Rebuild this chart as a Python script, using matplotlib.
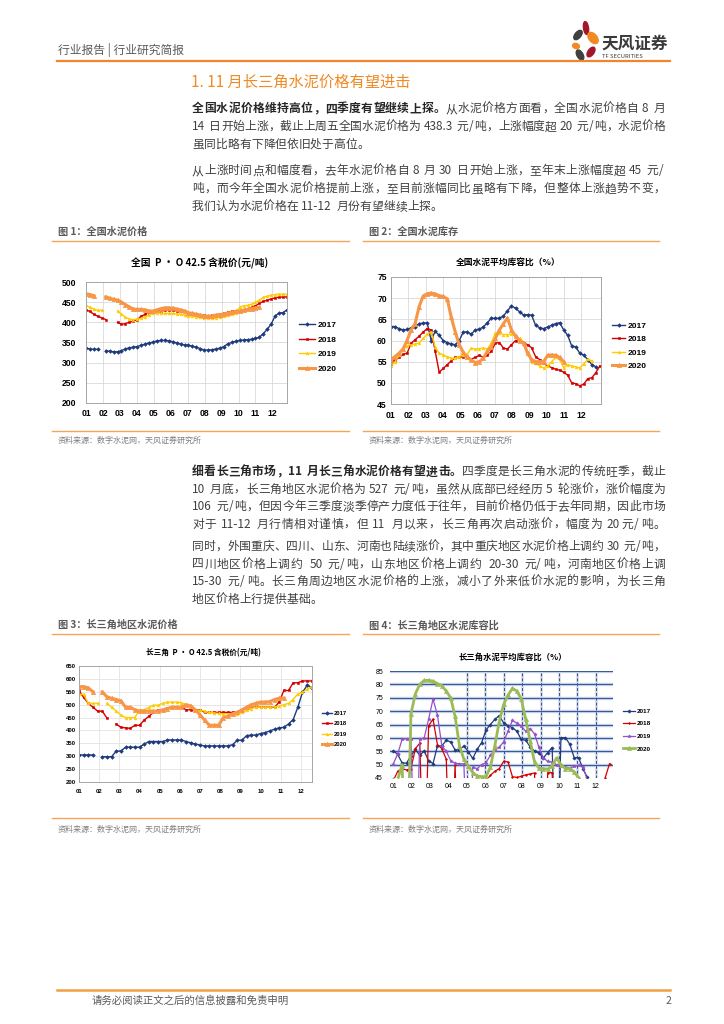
import numpy as np
import matplotlib
matplotlib.use('Agg')
import matplotlib.pyplot as plt
from matplotlib.lines import Line2D
from matplotlib.patches import Ellipse

plt.rcParams['font.family'] = ['Noto Sans CJK SC', 'DejaVu Sans']
plt.rcParams['axes.unicode_minus'] = False

nan = np.nan
MONTHS = ['01', '02', '03', '04', '05', '06', '07', '08', '09', '10', '11', '12']
YEARS = ['2017', '2018', '2019', '2020']

# 图1 全国 P.O42.5 含税价（周度，元/吨）
nat_price_2017 = [336, 334, 333, 333, nan, 330, 328, 327, 327, 330, 334, 337, 338, 340, 343, 346, 349, 351,
                  354, 355, 355, 354, 352, 349, 346, 344, 343, 341, 338, 335, 331, 331, 332, 334, 336, 340,
                  347, 350, 353, 355, 356, 357, 358, 360, 363, 372, 383, 396, 416, 423, 424, 431]
nat_price_2018 = [431, 427, 420, 415, 411, 407, nan, nan, 400, 395, 397, 400, 403, 407, 415, 420, 424, 427,
                  428, 429, 430, 430, 430, 429, 429, 428, 424, 421, 420, 418, 417, 416, 417, 418, 420, 422,
                  425, 427, 428, 429, 431, 433, 437, 441, 447, 452, 455, 458, 461, 462, 463, 463]
nat_price_2019 = [442, 437, 433, 430, 430, nan, nan, nan, 428, 420, 413, 408, 407, 408, 410, 414, 418, 422,
                  424, 422, 422, 422, 422, 421, 420, 418, 416, 415, 414, 413, 411, 410, 410, 411, 413, 416,
                  419, 421, 423, 438, 441, 442, 445, 450, 455, 462, 465, 467, 469, 470, 470, 470]
nat_price_2020 = [471, 469, 466, nan, nan, 463, 460, 457, 455, 450, 444, 438, 433, 432, 432, 431, 428, 428,
                  431, 434, 436, 436, 435, 433, 431, 428, 424, 422, 420, 418, 416, 415, 416, 418, 419, 421,
                  423, 425, 427, 428, 430, 432, 434, 436, 437]

# 图2 全国水泥平均库容比（%）
nat_stock_2017 = [63.3, 63.3, 62.8, 62.5, 62.6, 63.0, 63.2, 64.0, 64.1, 64.2, 60.0, 62.2, 61.2, 60.0, 59.5,
                  59.2, 59.0, 60.0, 62.0, 62.0, 61.5, 62.5, 62.7, 63.2, 64.2, 65.3, 65.2, 65.3, 65.8, 67.0,
                  68.2, 67.6, 66.8, 66.0, 66.1, 66.0, 63.6, 63.0, 62.8, 63.2, 63.6, 64.0, 64.2, 62.5, 61.2,
                  58.7, 58.5, 57.0, 56.5, 55.5, 54.3, 53.8]
nat_stock_2018 = [54.5, 55.5, 56.0, 56.7, 57.0, 59.3, 60.2, 61.0, 62.0, 62.8, 62.5, 57.5, 52.5, 53.4, 54.3,
                  55.2, 56.0, 56.0, 56.2, 56.2, 55.6, 56.0, 56.5, 56.0, 56.5, 57.5, 59.4, 59.5, 58.2, 58.0,
                  59.0, 60.0, 60.0, 59.5, 59.0, 58.3, 56.2, 55.5, 54.6, 54.0, 53.6, 53.2, 53.0, 52.5, 51.8,
                  50.0, 49.8, 49.3, 49.7, 51.0, 51.2, 52.4, 54.0]
nat_stock_2019 = [54.0, 55.0, 56.5, 57.8, 58.8, 59.0, 59.2, 59.4, 60.5, 61.5, 62.0, 58.5, 57.0, 56.6, 56.2,
                  55.8, 55.8, 56.2, 56.6, 56.8, 58.2, 58.0, 58.1, 58.2, 58.0, 59.5, 61.8, 61.8, 61.4, 61.4,
                  61.5, 61.2, 60.5, 59.5, 57.2, 55.0, 54.6, 54.0, 53.5, 54.0, 55.0, 56.0, 55.6, 53.5, 54.3,
                  54.0, 53.8, 53.5, 54.5, 55.6, 55.2]
nat_stock_2020 = [55.5, 56.2, 57.0, 58.0, 60.0, 62.5, 64.0, 68.0, 70.5, 71.0, 71.2, 71.0, 70.6, 70.4, 69.8,
                  65.5, 62.0, 59.0, 57.2, 56.0, 55.3, 54.8, 55.0, 55.8, 57.5, 58.5, 60.5, 62.5, 64.0, 65.3,
                  62.5, 61.0, 60.0, 59.5, 57.0, 55.5, 55.0, 55.0, 55.0, 56.5, 56.6, 56.5, 56.0, 55.0]

# 图3 长三角 P.O42.5 含税价（元/吨）
yrd_price_2017 = [305, 305, 305, 305, nan, 298, 298, 298, 320, 320, 335, 335, 335, 335, 347, 357, 357, 357,
                  357, 363, 363, 363, 363, 357, 352, 347, 343, 340, 340, 340, 340, 340, 340, 345, 362, 362,
                  380, 382, 382, 388, 392, 398, 405, 410, 412, 425, 442, 490, 548, 575, 566]
yrd_price_2018 = [555, 528, 505, 490, 475, 475, 448, nan, 425, 412, 410, 408, 420, 420, 440, 455, 470, 480,
                  480, 488, 490, 490, 490, 480, 480, 480, 480, 470, 470, 470, 470, 470, 470, 470, 470, 480,
                  490, 490, 490, 490, 490, 490, 490, 510, 555, 555, 585, 585, 592, 592, 592]
yrd_price_2019 = [540, 540, 505, 505, 505, nan, 505, 490, 475, 460, 450, 450, 450, 480, 480, 490, 498, 498,
                  505, 510, 510, 510, 508, 500, 490, 480, 478, 475, 470, 468, 466, 465, 465, 465, 465, 470,
                  478, 485, 490, 490, 490, 490, 492, 495, 500, 505, 520, 542, 548, 560, 570]
yrd_price_2020 = [570, 570, 565, 550, nan, 550, 530, 525, 520, 515, 490, 490, 480, 475, 475, 475, 475, 475,
                  480, 485, 490, 490, 490, 500, 495, 480, 460, 440, 420, 420, 420, 450, 455, 465, 470, 480,
                  490, 500, 505, 510, 510, 512, 520, 525, 525]

# 图4 长三角水泥平均库容比（%），0 为缺失/低于坐标下限
yrd_stock_2017 = [55.2, 53.8, 50.6, 50.6, 53.3, 55.7, 53.5, 55.1, 51.4, 50.4, 57.0, 57.0, 59.1, 58.5, 55.5,
                  55.5, 57.0, 54.8, 52.3, 55.7, 58.2, 62.9, 65.0, 66.9, 68.3, 65.6, 64.6, 63.8, 62.5, 59.4,
                  59.1, 56.7, 55.1, 54.3, 52.5, 54.5, 56.4, 0, 60.1, 60.1, 57.6, 52.6, 52.6, 48.3, 45.2, 40]
yrd_stock_2018 = [44, 47.5, 48.5, 48, 48.5, 56, 58, 0, 64.5, 67, 57.5, 56, 52, 0, 50, 0, 0, 0, 0, 0, 0,
                  44, 46, 47.5, 48.5, 51.2, 51, 45.5, 45.2, 45.6, 46.2, 46.5, 46.9, 0, 0, 47, 47,
                  0, 0, 0, 0, 0, 0, 0, 0, 0, 0, 0, 45, 50.3]
yrd_stock_2019 = [50.3, 54, 59.5, 59.7, 59.7, 0, 59.5, 60, 67, 74.5, 68.5, 57, 55, 51.5, 50.5, 50.3, 50.3,
                  0, 49, 48.5, 50, 50.7, 53.5, 55.5, 56.5, 58.5, 62.5, 66.5, 65.5, 64.5, 62.5, 63.5, 61.5,
                  56.5, 52.5, 51.2, 51, 50, 49.6, 49, 48.7, 49.3, 49.8, 49.2, 44]
yrd_stock_2020 = [44.5, 44.5, 50, 0, 69, 76.5, 80, 81.5, 81.5, 81.2, 80.3, 79.5, 77.5, 75, 68, 57, 52, 49.5,
                  47, 45.8, 45.5, 45.5, 49, 57, 66, 72.5, 76, 78.5, 77.5, 74.5, 67, 59, 51, 48.7, 48.5,
                  48.3, 49.5, 52.5, 50, 48.5, 48.5, 47.3, 45]

W, H = 724, 1024
fig = plt.figure(figsize=(W / 100, H / 100), dpi=100)
fig.patch.set_facecolor('white')
renderer = fig.canvas.get_renderer()


def fx(x):
    return x / W


def fy(y):
    return 1 - y / H


def box(l, t, r, b):
    return [l / W, 1 - b / H, (r - l) / W, (b - t) / H]


def hline(x0, x1, y, color, lw):
    fig.add_artist(Line2D([fx(x0), fx(x1)], [fy(y), fy(y)], color=color, lw=lw,
                          transform=fig.transFigure))


def ink_width(s, size, weight):
    t = fig.text(0, 0, s, fontsize=size, fontweight=weight)
    w = t.get_window_extent(renderer).width
    t.remove()
    return w


def split_tokens(s):
    toks, buf = [], ''
    for ch in s:
        if ord(ch) < 128 and ch != ' ':
            buf += ch
        else:
            if buf:
                toks.append(buf)
                buf = ''
            toks.append(ch)
    if buf:
        toks.append(buf)
    return toks


# 正文按字排版，两端对齐
def text_line(y, parts, justify=True, x0=192, x1=665, size=8.5):
    em = size * 100 / 72
    items = []
    for txt, bold in parts:
        wt = 'bold' if bold else 'normal'
        col = '#262626' if bold else '#404040'
        for tok in split_tokens(txt):
            if tok == ' ':
                items.append(('', 0.25 * em, wt, col))
            elif ord(tok[0]) < 128:
                items.append((tok, ink_width(tok, size, wt) + 0.12 * em, wt, col))
            else:
                items.append((tok, em, wt, col))
    natural = sum(it[1] for it in items)
    gap = (x1 - x0 - natural) / (len(items) - 1) if justify else 0.0
    x = x0
    base = y + 0.36 * em
    for tok, w, wt, col in items:
        if tok:
            fig.text(fx(x), fy(base), tok, fontsize=size, fontweight=wt, color=col,
                     ha='left', va='baseline')
        x += w + gap


# ---------- 页眉 ----------
fig.text(fx(58), fy(50), '行业报告 | 行业研究简报', fontsize=8.5, color='#595959', va='center')
hline(57, 670, 61, '#f0862c', 1.6)
ax_logo = fig.add_axes(box(570, 20, 600, 62))
ax_logo.set_xlim(570, 600)
ax_logo.set_ylim(62, 20)
ax_logo.axis('off')
petals = [(586, 28, 5, 13, -8, '#a3152a'), (578, 35, 6, 11, 40, '#404040'),
          (593, 38, 8, 13, -40, '#f08a24'), (576, 46, 7, 5, 15, '#f08a24'),
          (580, 55, 6, 11, -30, '#404040'), (591, 52, 6, 11, 35, '#a3152a')]
for cx, cy, w, h, ang, col in petals:
    ax_logo.add_patch(Ellipse((cx, cy), w, h, angle=ang, color=col))
fig.text(fx(601), fy(44), '天风证券', fontsize=12, fontweight='bold', color='#3a3a3a', va='center')
fig.text(fx(602), fy(56), 'TF SECURITIES', fontsize=4.2, color='#3a3a3a', va='center')

fig.text(fx(191), fy(82), '1. 11 月长三角水泥价格有望进击', fontsize=11, color='#f08a24', va='center')

# ---------- 正文 ----------
text_line(108, [('全国水泥价格维持高位，四季度有望继续上探。', True), ('从水泥价格方面看，全国水泥价格自 8 月', False)])
text_line(126, [('14 日开始上涨，截止上周五全国水泥价格为 438.3 元/吨，上涨幅度超 20 元/吨，水泥价格', False)])
text_line(143.5, [('虽同比略有下降但依旧处于高位。', False)], justify=False)
text_line(170, [('从上涨时间点和幅度看，去年水泥价格自 8 月 30 日开始上涨，至年末上涨幅度超 45 元/', False)])
text_line(188, [('吨，而今年全国水泥价格提前上涨，至目前涨幅同比虽略有下降，但整体上涨趋势不变，', False)])
text_line(205.5, [('我们认为水泥价格在 11-12 月份有望继续上探。', False)], justify=False)

text_line(471, [('细看长三角市场，11 月长三角水泥价格有望进击。', True), ('四季度是长三角水泥的传统旺季，截止', False)])
text_line(488.5, [('10 月底，长三角地区水泥价格为 527 元/吨，虽然从底部已经经历 5 轮涨价，涨价幅度为', False)])
text_line(506, [('106 元/吨，但因今年三季度淡季停产力度低于往年，目前价格仍低于去年同期，因此市场', False)])
text_line(523.5, [('对于 11-12 月行情相对谨慎，但 11 月以来，长三角再次启动涨价，幅度为 20元/吨。', False)])
text_line(546, [('同时，外围重庆、四川、山东、河南也陆续涨价，其中重庆地区水泥价格上调约 30 元/吨，', False)])
text_line(563.5, [('四川地区价格上调约  50 元/吨，山东地区价格上调约  20-30 元/吨，河南地区价格上调', False)])
text_line(581, [('15-30 元/吨。长三角周边地区水泥价格的上涨，减小了外来低价水泥的影响，为长三角', False)])
text_line(598.5, [('地区价格上行提供基础。', False)], justify=False)


# ---------- 图表标题与来源 ----------
def caption(x, x_end, y_text, y_top, y_bottom, y_src, text):
    fig.text(fx(x), fy(y_text), text, fontsize=7.3, fontweight='bold', color='#595959', va='center')
    hline(x - 6, x_end, y_top, '#f5a55a', 1.0)
    hline(x - 6, x_end, y_bottom, '#f5a55a', 1.0)
    fig.text(fx(x), fy(y_src), '资料来源：数字水泥网，天风证券研究所', fontsize=5.8, color='#7f7f7f', va='center')


caption(58, 349, 232, 241, 431, 440, '图 1：全国水泥价格')
caption(369, 659, 232, 241, 431, 440, '图 2：全国水泥库存')
caption(58, 349, 625, 634, 818, 829, '图 3：长三角地区水泥价格')
caption(369, 659, 625, 634, 818, 829, '图 4：长三角地区水泥库容比')

STYLE = {'2017': dict(color='#1f3a7d', marker='D', ms=1.9, lw=1.0),
         '2018': dict(color='#d40000', marker='s', ms=1.7, lw=1.0),
         '2019': dict(color='#ffcc00', marker='^', ms=2.0, lw=1.0),
         '2020': dict(color='#f79646', marker='^', ms=3.2, lw=2.2)}
STYLE4 = {'2017': dict(color='#1f3a7d', marker='D', ms=1.7, lw=0.9),
          '2018': dict(color='#d40000', marker='.', ms=2.5, lw=0.9),
          '2019': dict(color='#9650c8', marker='*', ms=2.6, lw=0.9),
          '2020': dict(color='#9bbb59', marker='^', ms=3.0, lw=2.0)}


def draw_series(ax, series, style, per_month):
    for yr, vals in zip(YEARS, series):
        v = np.array(vals, dtype=float)
        x = np.arange(len(v)) / per_month
        ax.plot(x, v, label=yr, mew=0.4, mec=style[yr]['color'], **style[yr])


def setup_axes(rect, ylim, ystep, xlim, tsize, ypad, xpad, grid_color):
    ax = fig.add_axes(box(*rect))
    ax.set_xlim(*xlim)
    ax.set_ylim(*ylim)
    ax.set_xticks(range(12))
    ax.set_xticklabels(MONTHS)
    ax.set_yticks(np.arange(ylim[0], ylim[1] + ystep / 2, ystep))
    ax.grid(True, color=grid_color, lw=0.6)
    ax.set_axisbelow(True)
    for s in ax.spines.values():
        s.set_color('#a6a6a6')
        s.set_linewidth(0.7)
    ax.tick_params(axis='y', length=0, pad=ypad)
    ax.tick_params(axis='x', length=0, pad=xpad)
    for lab in ax.get_xticklabels() + ax.get_yticklabels():
        lab.set_family('Liberation Sans')
        lab.set_weight('bold')
        lab.set_size(tsize)
    return ax


def add_legend(ax, x, yc, size, pitch, hl_px):
    f_px = size * 100 / 72
    ax.legend(loc='center left', bbox_to_anchor=(fx(x), fy(yc)), bbox_transform=fig.transFigure,
              frameon=False, prop={'family': 'Liberation Sans', 'weight': 'bold', 'size': size},
              handlelength=hl_px / f_px, handletextpad=0.3, labelspacing=pitch / f_px - 0.93,
              borderpad=0, borderaxespad=0, numpoints=1)


# 图1
ax1 = setup_axes((86, 282, 287, 403), (200, 500), 50, (0, 11.86), 6.2, 7, 4.5, '#d9d9d9')
draw_series(ax1, [nat_price_2017, nat_price_2018, nat_price_2019, nat_price_2020], STYLE, 4.3)
add_legend(ax1, 299, 347, 6, 14.5, 16)
fig.text(fx(200), fy(263), '全国  P • O 42.5 含税价(元/吨)', fontsize=7, fontweight='bold',
         ha='center', va='center', color='#000000')

# 图2
ax2 = setup_axes((391, 277, 601, 404), (45, 75), 5, (0, 12.16), 6.2, 3, 5, '#d9d9d9')
draw_series(ax2, [nat_stock_2017, nat_stock_2018, nat_stock_2019, nat_stock_2020], STYLE, 4.3)
add_legend(ax2, 612, 346, 6, 13.3, 13)
fig.text(fx(508), fy(262), '全国水泥平均库容比（%）', fontsize=6.3, fontweight='bold',
         ha='center', va='center', color='#000000')

# 图3
ax3 = setup_axes((79, 666, 312, 782), (200, 650), 50, (0, 11.55), 4.3, 2.5, 5, '#e3e3e3')
draw_series(ax3, [yrd_price_2017, yrd_price_2018, yrd_price_2019, yrd_price_2020], STYLE, 4.333)
add_legend(ax3, 322, 729, 4.2, 10.7, 10)
fig.text(fx(203), fy(653), '长三角  P • O 42.5 含税价(元/吨)', fontsize=5.5, fontweight='bold',
         ha='center', va='center', color='#000000')

# 图4
ax4 = fig.add_axes(box(390, 671, 613, 778))
ax4.set_xlim(-0.18, 11.94)
ax4.set_ylim(45, 85)
for v in range(50, 86, 5):
    ax4.axhline(v, color='#c9d5ec', lw=2.4, zorder=0)
    ax4.axhline(v, color='#3b5a9a', lw=0.8, zorder=0.5)
for m in range(4, 12):
    ax4.axvline(m, color='#d5dceb', lw=2.0, zorder=0)
    ax4.axvline(m, color='#2f4f8f', lw=0.7, ls=(0, (3, 2)), zorder=0.5)
draw_series(ax4, [yrd_stock_2017, yrd_stock_2018, yrd_stock_2019, yrd_stock_2020], STYLE4, 4.17)
for s in ax4.spines.values():
    s.set_visible(False)
ax4.set_xticks(range(12))
ax4.set_xticklabels(MONTHS)
ax4.set_yticks(range(45, 86, 5))
ax4.tick_params(axis='y', length=0, pad=5)
ax4.tick_params(axis='x', length=0, pad=3.5)
for lab in ax4.get_xticklabels() + ax4.get_yticklabels():
    lab.set_family('Liberation Sans')
    lab.set_size(5)
add_legend(ax4, 623, 730, 4.6, 13.1, 12)
fig.text(fx(513), fy(657), '长三角水泥平均库容比（%）', fontsize=6, fontweight='bold',
         ha='center', va='center', color='#000000')

# ---------- 页脚 ----------
hline(57, 670, 990, '#f0a040', 1.8)
fig.text(fx(92), fy(1001), '请务必阅读正文之后的信息披露和免责申明', fontsize=7.5, color='#595959', va='center')
fig.text(fx(666), fy(1001), '2', fontsize=7.5, color='#595959', va='center')

fig.savefig('out.png', dpi=100)
